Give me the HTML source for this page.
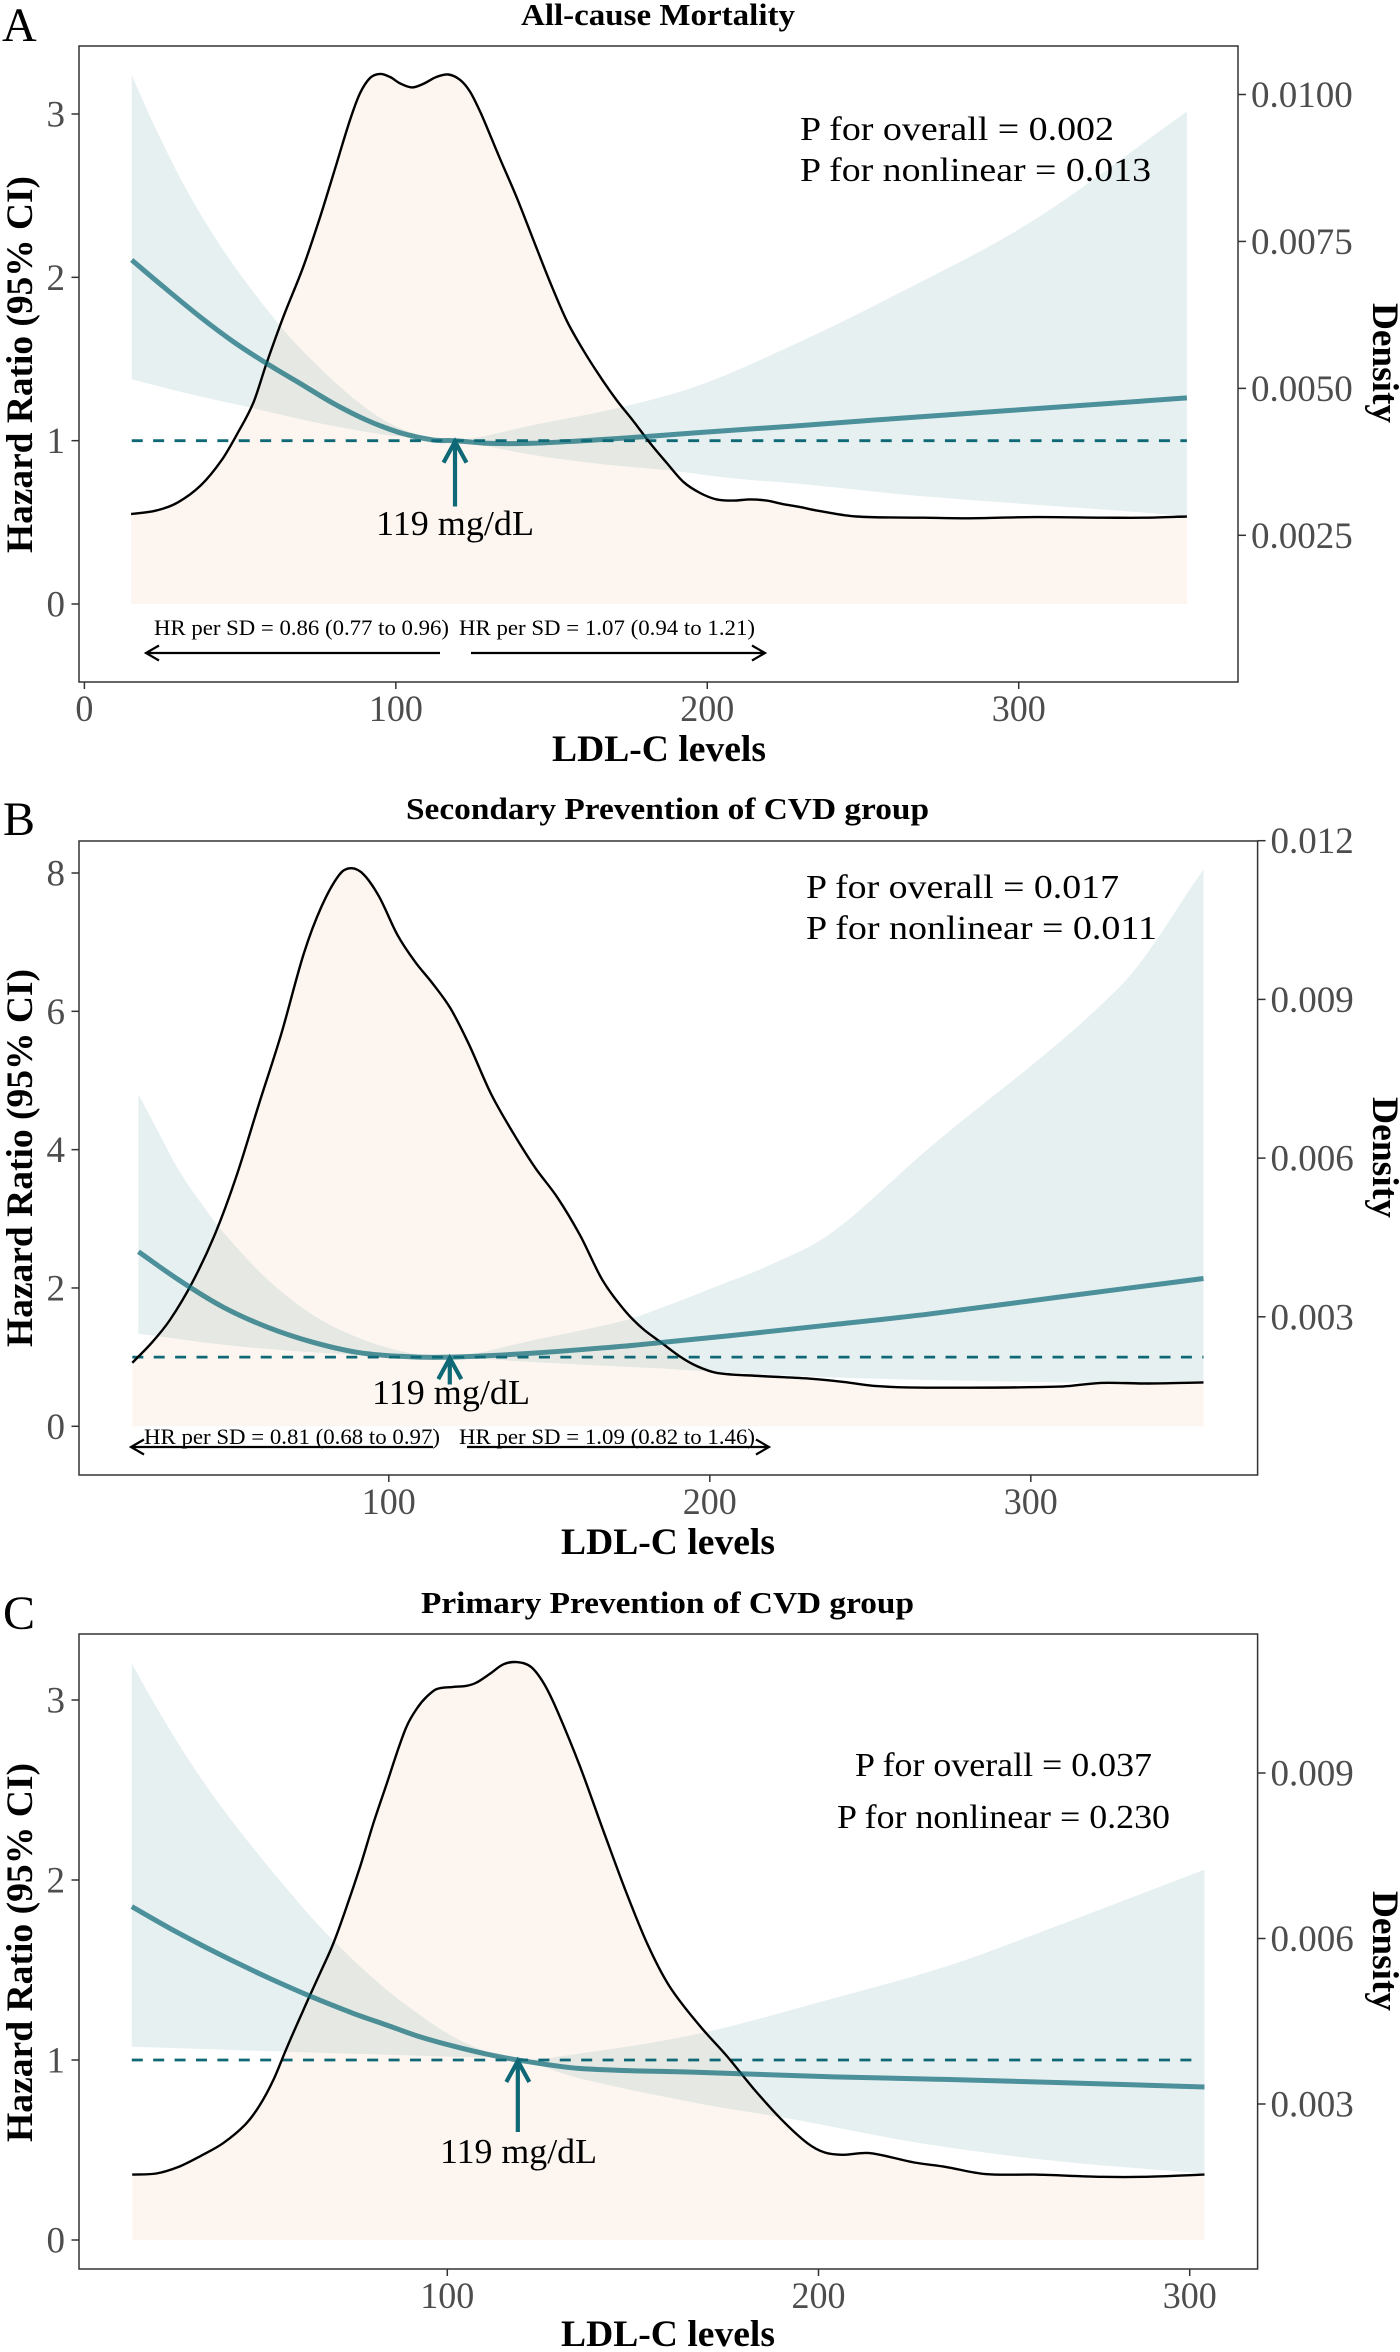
<!DOCTYPE html>
<html lang="en">
<head>
<meta charset="utf-8">
<title>LDL-C levels and hazard ratio</title>
<style>
html,body{margin:0;padding:0;background:#fff;}
svg{display:block;}
text{font-family:"Liberation Serif","Times New Roman",serif;}
.title{font-weight:bold;font-size:31px;fill:#000;}
.axis-title{font-weight:bold;font-size:37px;fill:#000;}
.letter{font-size:48px;fill:#000;}
.note{font-size:34px;fill:#000;}
.hrsd{font-size:22px;fill:#000;}
.ref{font-size:35px;fill:#000;}
.tick{font-size:37px;fill:#4d4d4d;}
.tickr{font-size:37px;fill:#4d4d4d;}
</style>
</head>
<body>
<svg id="chart" xmlns="http://www.w3.org/2000/svg" width="1400" height="2352" viewBox="0 0 1400 2352">
  <rect x="0" y="0" width="1400" height="2352" fill="#fff"/>

  <g id="panel-a"></g>
  <g id="panel-b"></g>
  <g id="panel-c"></g>

  <g>
    <text class="letter" x="2" y="41">A</text>
    <text class="title" x="521" y="25" textLength="274" lengthAdjust="spacingAndGlyphs">All-cause Mortality</text>
    <text class="note" x="800" y="140" textLength="314" lengthAdjust="spacingAndGlyphs">P for overall = 0.002</text>
    <text class="note" x="800" y="181" textLength="351" lengthAdjust="spacingAndGlyphs">P for nonlinear = 0.013</text>
    <text class="ref" x="376" y="535" textLength="158" lengthAdjust="spacingAndGlyphs">119 mg/dL</text>
    <text class="hrsd" x="154" y="635" textLength="295" lengthAdjust="spacingAndGlyphs">HR per SD = 0.86 (0.77 to 0.96)</text>
    <text class="hrsd" x="459" y="635" textLength="296" lengthAdjust="spacingAndGlyphs">HR per SD = 1.07 (0.94 to 1.21)</text>
    <path d="M440 653H146M159 645.5L146 653L159 660.5" fill="none" stroke="#000" stroke-width="2.2"/>
    <path d="M471 653H765M752 645.5L765 653L752 660.5" fill="none" stroke="#000" stroke-width="2.2"/>
    <text class="axis-title" x="552" y="761" textLength="214" lengthAdjust="spacingAndGlyphs">LDL-C levels</text>
    <text class="axis-title" transform="translate(32 553) rotate(-90)" textLength="377" lengthAdjust="spacingAndGlyphs">Hazard Ratio (95% CI)</text>
    <text class="axis-title" transform="translate(1373 303) rotate(90)" textLength="120" lengthAdjust="spacingAndGlyphs">Density</text>
  </g>

  <g>
    <text class="letter" x="3" y="835">B</text>
    <text class="title" x="406" y="819" textLength="523" lengthAdjust="spacingAndGlyphs">Secondary Prevention of CVD group</text>
    <text class="note" x="806" y="898" textLength="313" lengthAdjust="spacingAndGlyphs">P for overall = 0.017</text>
    <text class="note" x="806" y="939" textLength="351" lengthAdjust="spacingAndGlyphs">P for nonlinear = 0.011</text>
    <text class="ref" x="372" y="1404" textLength="158" lengthAdjust="spacingAndGlyphs">119 mg/dL</text>
    <text class="hrsd" x="144" y="1444" textLength="296" lengthAdjust="spacingAndGlyphs">HR per SD = 0.81 (0.68 to 0.97)</text>
    <text class="hrsd" x="459" y="1444" textLength="296" lengthAdjust="spacingAndGlyphs">HR per SD = 1.09 (0.82 to 1.46)</text>
    <path d="M433 1447H131M144 1439.5L131 1447L144 1454.5" fill="none" stroke="#000" stroke-width="2.2"/>
    <path d="M467 1447H769M756 1439.5L769 1447L756 1454.5" fill="none" stroke="#000" stroke-width="2.2"/>
    <text class="axis-title" x="561" y="1554" textLength="214" lengthAdjust="spacingAndGlyphs">LDL-C levels</text>
    <text class="axis-title" transform="translate(32 1347) rotate(-90)" textLength="378" lengthAdjust="spacingAndGlyphs">Hazard Ratio (95% CI)</text>
    <text class="axis-title" transform="translate(1373 1097) rotate(90)" textLength="121" lengthAdjust="spacingAndGlyphs">Density</text>
  </g>

  <g>
    <text class="letter" x="3" y="1629">C</text>
    <text class="title" x="421" y="1613" textLength="493" lengthAdjust="spacingAndGlyphs">Primary Prevention of CVD group</text>
    <text class="note" x="855" y="1776" textLength="297" lengthAdjust="spacingAndGlyphs">P for overall = 0.037</text>
    <text class="note" x="837" y="1828" textLength="333" lengthAdjust="spacingAndGlyphs">P for nonlinear = 0.230</text>
    <text class="ref" x="440" y="2163" textLength="157" lengthAdjust="spacingAndGlyphs">119 mg/dL</text>
    <text class="axis-title" x="561" y="2346" textLength="214" lengthAdjust="spacingAndGlyphs">LDL-C levels</text>
    <text class="axis-title" transform="translate(32 2142) rotate(-90)" textLength="379" lengthAdjust="spacingAndGlyphs">Hazard Ratio (95% CI)</text>
    <text class="axis-title" transform="translate(1373 1891) rotate(90)" textLength="120" lengthAdjust="spacingAndGlyphs">Density</text>
  </g>
</svg>

<script>
/* ---------- Panel A data ---------- */
const aXTicks = [0, 100, 200, 300];
const aHrTicks = [0, 1, 2, 3];
const aDensityTicks = ['0.0025', '0.0050', '0.0075', '0.0100'];
const aDensityLdl = [15, 23, 30, 37.4, 44.1, 48.9, 54.2, 58.5, 63.9, 70.3, 75.7, 81, 85.3, 88.5, 91.7, 94.9, 98.1, 101.3, 105.1, 108.8, 113.1, 116.9, 120.6, 123.8, 127.3, 133.5, 138.8, 144.2, 149.5, 154.9, 160.2, 165.6, 170.9, 176.3, 181.6, 187, 192.3, 197.7, 203, 208.4, 213.7, 219.1, 224.4, 229.8, 236.4, 247.9, 269.4, 283.8, 305.2, 326.8, 341, 354];
const aDensity = [.00286, .00292, .00306, .00335, .00378, .00421, .00475, .00543, .00622, .00707, .00792, .00883, .00957, .01002, .01028, .01035, .0103, .01019, .01012, .01018, .0103, .01034, .01025, .01005, .00968, .0089, .00825, .00752, .00681, .00615, .00565, .0052, .0048, .00444, .00407, .00373, .00341, .00322, .00311, .00309, .00311, .00309, .00303, .00298, .00291, .00282, .0028, .00279, .00281, .0028, .0028, .00282];
const aHrLdl = [15.2, 25.3, 37.1, 47.8, 58.5, 69.2, 79.9, 90.6, 101.3, 112, 119, 129.2, 144, 160, 179.5, 197.7, 229.8, 255, 298, 354];
const aHr = [2.106, 1.943, 1.759, 1.606, 1.473, 1.351, 1.229, 1.126, 1.049, 1.004, 1, .984, .984, 1, 1.024, 1.05, 1.092, 1.128, 1.186, 1.262];
const aUpperLdl = [15.2, 22.1, 32.8, 43.5, 54.2, 64.9, 75.7, 86.4, 97.1, 107.8, 119, 144.2, 170.9, 197.7, 229.8, 255, 304, 354];
const aUpper = [3.239, 2.943, 2.535, 2.198, 1.912, 1.657, 1.443, 1.259, 1.116, 1.035, 1, 1.096, 1.198, 1.341, 1.606, 1.84, 2.34, 3.015];
const aLowerLdl = [15.2, 32.8, 54.2, 75.7, 97.1, 119, 144.2, 165.6, 187, 208.4, 229.8, 269, 340, 354];
const aLower = [1.376, 1.29, 1.198, 1.106, 1.035, 1, .912, .857, .82, .769, .735, .66, .56, .537];

/* ---------- Panel B data ---------- */
const bXTicks = [100, 200, 300];
const bHrTicks = [0, 2, 4, 6, 8];
const bDensityTicks = ['0.003', '0.006', '0.009', '0.012'];
const bDensityLdl = [20.1, 26.3, 31.8, 38.8, 45.7, 52.6, 59.6, 66.5, 73.5, 79, 84.6, 88.3, 92.2, 97, 102.6, 108.2, 113.8, 119.3, 124.9, 131.8, 138.8, 145.7, 152.6, 159.6, 166.5, 173.5, 179, 184.5, 190.7, 195.9, 202.2, 215.7, 231.2, 241.6, 252, 267.6, 309, 321.9, 335.8, 353.8];
const bDensity = [.00213, .00252, .00294, .00365, .00454, .00567, .00703, .00835, .00986, .01075, .01136, .01148, .01136, .01094, .01023, .00971, .00929, .00882, .00816, .00722, .00647, .00581, .00525, .00454, .0037, .00312, .00278, .00253, .00225, .00207, .00194, .00188, .00183, .00177, .00169, .00166, .00168, .00175, .00174, .00176];
const bHrLdl = [22, 34.6, 48.5, 62.4, 76.3, 90.1, 104, 119, 145.7, 173.5, 184.5, 205.3, 236.4, 267.6, 309, 329, 353.8];
const bHr = [2.525, 2.115, 1.72, 1.43, 1.216, 1.07, 1.01, 1, 1.06, 1.16, 1.21, 1.305, 1.46, 1.62, 1.87, 1.99, 2.137];
const bUpperLdl = [22, 27.6, 34.6, 41.5, 48.5, 62.4, 76.3, 90, 104, 119, 145.7, 173.5, 184.5, 203.2, 218.8, 238, 267.6, 328, 353.8];
const bUpper = [4.8, 4.31, 3.7, 3.23, 2.8, 2.115, 1.61, 1.29, 1.086, 1, 1.25, 1.53, 1.706, 2.043, 2.332, 2.8, 3.995, 6.37, 8.05];
const bLowerLdl = [22, 48.5, 76.3, 104, 119, 145.7, 173.5, 184.5, 205.3, 246.8, 309, 353.8];
const bLower = [1.338, 1.18, 1.07, 1.014, 1, .928, .86, .838, .776, .694, .636, .62];

/* ---------- Panel C data ---------- */
const cXTicks = [100, 200, 300];
const cHrTicks = [0, 1, 2, 3];
const cDensityTicks = ['0.003', '0.006', '0.009'];
const cDensityLdl = [15.1, 21.6, 27.6, 33.6, 39.6, 45.6, 49.5, 53.1, 56.7, 61.2, 65.7, 69.3, 72.9, 76.5, 80.1, 83.7, 86.4, 89, 91.8, 94.4, 97.1, 101.6, 105.2, 107.9, 111.5, 115.1, 118.7, 122.6, 126.2, 129.8, 135.8, 141.9, 147.9, 153.9, 159.9, 168.1, 175.3, 182.5, 189.7, 197, 201.7, 206.6, 213.7, 225.8, 234.2, 245, 258.3, 276.3, 288.3, 304];
const cDensity = [.00172, .00174, .00186, .00206, .00229, .00263, .00298, .00343, .00401, .0047, .00537, .00591, .00658, .0073, .00809, .00881, .00936, .00984, .01017, .01038, .01052, .01056, .01058, .01064, .0108, .01097, .01101, .01092, .0106, .0101, .00911, .00798, .00689, .0059, .00513, .00441, .00387, .00328, .00274, .00229, .00212, .00208, .00211, .00194, .00186, .00173, .00172, .00168, .00168, .00172];
const cHrLdl = [15, 25.3, 34.3, 43.3, 52.2, 63, 74.7, 83.7, 92.6, 101.6, 110.6, 119, 135.8, 168, 204, 234, 264, 304];
const cHr = [1.852, 1.731, 1.633, 1.54, 1.453, 1.355, 1.259, 1.194, 1.129, 1.077, 1.033, 1, .953, .931, .906, .892, .875, .85];
const cUpperLdl = [15, 20.8, 29.8, 38.8, 47.8, 56.7, 65.7, 74.7, 83.7, 92.6, 101.6, 110.6, 119, 135.8, 168, 204, 234, 254.7, 304];
const cUpper = [3.203, 2.99, 2.685, 2.416, 2.176, 1.953, 1.74, 1.555, 1.389, 1.25, 1.129, 1.046, 1, 1.036, 1.147, 1.342, 1.517, 1.67, 2.058];
const cLowerLdl = [15, 56.7, 101.6, 119, 135.8, 168, 192, 228, 264, 304];
const cLower = [1.074, 1.046, 1.018, 1, .897, .758, .675, .536, .439, .369];

/* Optimal reference value per panel (mg/dL) and the reference hazard ratio */
const referenceLdl = [119, 119, 119];
const referenceHr = [1, 1, 1];

/* ---------- Layout (axis calibration, not data) ---------- */
const layoutA = {box:[79, 46, 1238, 682], xA:[0, 84.4], xB:[300, 1018.7], yA:[0, 604], yB:[3, 114], dA:[0.0025, 535.3], dB:[0.01, 94.5], dashEnd:354, rightLabelX:1251, arrowTail:506.5};
const layoutB = {box:[79, 841, 1257.6, 1475], xA:[100, 388.8], xB:[300, 1030.8], yA:[0, 1426.3], yB:[8, 873], dA:[0.003, 1316.8], dB:[0.012, 840.7], dashEnd:353.8, rightLabelX:1270.5, arrowTail:1384.5};
const layoutC = {box:[79, 1634, 1257.6, 2269], xA:[100, 447.3], xB:[300, 1189.7], yA:[0, 2240], yB:[3, 1700], dA:[0.003, 2104], dB:[0.009, 1773], dashEnd:302, rightLabelX:1270.5, arrowTail:2132};

const NS = 'http://www.w3.org/2000/svg';
const linear = (a, b) => v => a[1] + (v - a[0]) * (b[1] - a[1]) / (b[0] - a[0]);

/* Cubic Hermite through the points, tangents weighted by the actual x spacing */
function smooth(pts) {
  const slope = i => {
    const a = pts[Math.max(i - 1, 0)], b = pts[Math.min(i + 1, pts.length - 1)];
    return (b[1] - a[1]) / (b[0] - a[0]);
  };
  let d = 'M' + pts[0][0].toFixed(1) + ' ' + pts[0][1].toFixed(1);
  for (let i = 0; i < pts.length - 1; i++) {
    const p1 = pts[i], p2 = pts[i + 1], h = (p2[0] - p1[0]) / 3;
    const c1 = [p1[0] + h, p1[1] + slope(i) * h];
    const c2 = [p2[0] - h, p2[1] - slope(i + 1) * h];
    d += 'C' + [c1[0], c1[1], c2[0], c2[1], p2[0], p2[1]].map(n => n.toFixed(1)).join(' ');
  }
  return d;
}

function shape(parent, tag) {
  const el = document.createElementNS(NS, tag);
  parent.appendChild(el);
  return el;
}

function drawPanel(key, layout, idx, d) {
  const g = document.getElementById('panel-' + key);
  const x = linear(layout.xA, layout.xB);
  const y = linear(layout.yA, layout.yB);
  const yd = linear(layout.dA, layout.dB);
  const [bl, bt, br, bb] = layout.box;

  /* density area */
  const densityPts = d.densityLdl.map((v, i) => [x(v), yd(d.density[i])]);
  const base = y(0);
  const area = shape(g, 'path');
  
  
  area.setAttribute('d', smooth(densityPts) + 'L' + densityPts[densityPts.length - 1][0].toFixed(1) + ' ' + base.toFixed(1) + 'L' + densityPts[0][0].toFixed(1) + ' ' + base.toFixed(1) + 'Z');
  area.setAttribute('fill', '#fdf6f0');

  /* confidence band */
  const upperPts = d.upperLdl.map((v, i) => [x(v), y(d.upper[i])]);
  const lowerPts = d.lowerLdl.map((v, i) => [x(v), y(d.lower[i])]).reverse();
  const band = shape(g, 'path');
  
  
  band.setAttribute('d', smooth(upperPts) + 'L' + smooth(lowerPts).slice(1) + 'Z');
  band.setAttribute('fill', '#0f6b78');
  band.setAttribute('fill-opacity', '0.1');

  /* reference dashed line */
  const dash = shape(g, 'line');
  
  
  dash.setAttribute('x1', x(d.hrLdl[0] < 20 ? d.hrLdl[0] : d.densityLdl[0]));
  dash.setAttribute('x2', x(layout.dashEnd));
  dash.setAttribute('y1', y(referenceHr[idx]));
  dash.setAttribute('y2', y(referenceHr[idx]));
  dash.setAttribute('stroke', '#0f6875');
  dash.setAttribute('stroke-width', '2.8');
  dash.setAttribute('stroke-dasharray', '11 10.4');

  /* density curve */
  const densityLine = shape(g, 'path');
  
  
  densityLine.setAttribute('d', smooth(densityPts));
  densityLine.setAttribute('fill', 'none');
  densityLine.setAttribute('stroke', '#000');
  densityLine.setAttribute('stroke-width', '2.4');

  /* hazard-ratio curve */
  const hrLine = shape(g, 'path');
  
  
  hrLine.setAttribute('d', smooth(d.hrLdl.map((v, i) => [x(v), y(d.hr[i])])));
  hrLine.setAttribute('fill', 'none');
  hrLine.setAttribute('stroke', '#0f6b78');
  hrLine.setAttribute('stroke-opacity', '0.72');
  hrLine.setAttribute('stroke-width', '5');

  /* reference arrow */
  const ax = x(referenceLdl[idx]), ay = y(referenceHr[idx]);
  const arrow = shape(g, 'path');
  
  
  arrow.setAttribute('d', 'M' + ax + ' ' + layout.arrowTail + 'V' + (ay + 1) + 'M' + (ax - 11.5) + ' ' + (ay + 22) + 'L' + ax + ' ' + (ay + 1) + 'L' + (ax + 11.5) + ' ' + (ay + 22));
  arrow.setAttribute('fill', 'none');
  arrow.setAttribute('stroke', '#0f6875');
  arrow.setAttribute('stroke-width', '4.2');

  /* panel border */
  const border = shape(g, 'rect');
  
  
  border.setAttribute('x', bl);
  border.setAttribute('y', bt);
  border.setAttribute('width', br - bl);
  border.setAttribute('height', bb - bt);
  border.setAttribute('fill', 'none');
  border.setAttribute('stroke', '#333');
  border.setAttribute('stroke-width', '1.5');

  /* x axis */
  d.xTicks.forEach(v => {
    const t = shape(g, 'line');
    
    
    t.setAttribute('x1', x(v));
    t.setAttribute('x2', x(v));
    t.setAttribute('y1', bb);
    t.setAttribute('y2', bb + 7);
    t.setAttribute('stroke', '#333');
    t.setAttribute('stroke-width', '1.5');
    const l = shape(g, 'text');
    
    
    l.setAttribute('class', 'tick');
    l.setAttribute('x', x(v));
    l.setAttribute('y', bb + 39);
    l.setAttribute('text-anchor', 'middle');
    l.setAttribute('textLength', String(v).length * 18);
    l.setAttribute('lengthAdjust', 'spacingAndGlyphs');
    l.textContent = v;
  });

  /* hazard-ratio axis */
  d.hrTicks.forEach(v => {
    const t = shape(g, 'line');
    
    
    t.setAttribute('x1', bl - 7.5);
    t.setAttribute('x2', bl);
    t.setAttribute('y1', y(v));
    t.setAttribute('y2', y(v));
    t.setAttribute('stroke', '#333');
    t.setAttribute('stroke-width', '1.5');
    const l = shape(g, 'text');
    
    
    l.setAttribute('class', 'tick');
    l.setAttribute('x', 65);
    l.setAttribute('y', y(v) + 12.5);
    l.setAttribute('text-anchor', 'end');
    l.textContent = v;
  });

  /* density axis */
  d.densityTicks.forEach(v => {
    const t = shape(g, 'line');
    
    
    t.setAttribute('x1', br);
    t.setAttribute('x2', br + 8);
    t.setAttribute('y1', yd(+v));
    t.setAttribute('y2', yd(+v));
    t.setAttribute('stroke', '#333');
    t.setAttribute('stroke-width', '1.5');
    const l = shape(g, 'text');
    
    
    l.setAttribute('class', 'tickr');
    l.setAttribute('x', layout.rightLabelX);
    l.setAttribute('y', yd(+v) + 12.5);
    l.textContent = v;
  });
}

drawPanel('a', layoutA, 0, {xTicks:aXTicks, hrTicks:aHrTicks, densityTicks:aDensityTicks, densityLdl:aDensityLdl, density:aDensity, hrLdl:aHrLdl, hr:aHr, upperLdl:aUpperLdl, upper:aUpper, lowerLdl:aLowerLdl, lower:aLower});
drawPanel('b', layoutB, 1, {xTicks:bXTicks, hrTicks:bHrTicks, densityTicks:bDensityTicks, densityLdl:bDensityLdl, density:bDensity, hrLdl:bHrLdl, hr:bHr, upperLdl:bUpperLdl, upper:bUpper, lowerLdl:bLowerLdl, lower:bLower});
drawPanel('c', layoutC, 2, {xTicks:cXTicks, hrTicks:cHrTicks, densityTicks:cDensityTicks, densityLdl:cDensityLdl, density:cDensity, hrLdl:cHrLdl, hr:cHr, upperLdl:cUpperLdl, upper:cUpper, lowerLdl:cLowerLdl, lower:cLower});
</script>
</body>
</html>
